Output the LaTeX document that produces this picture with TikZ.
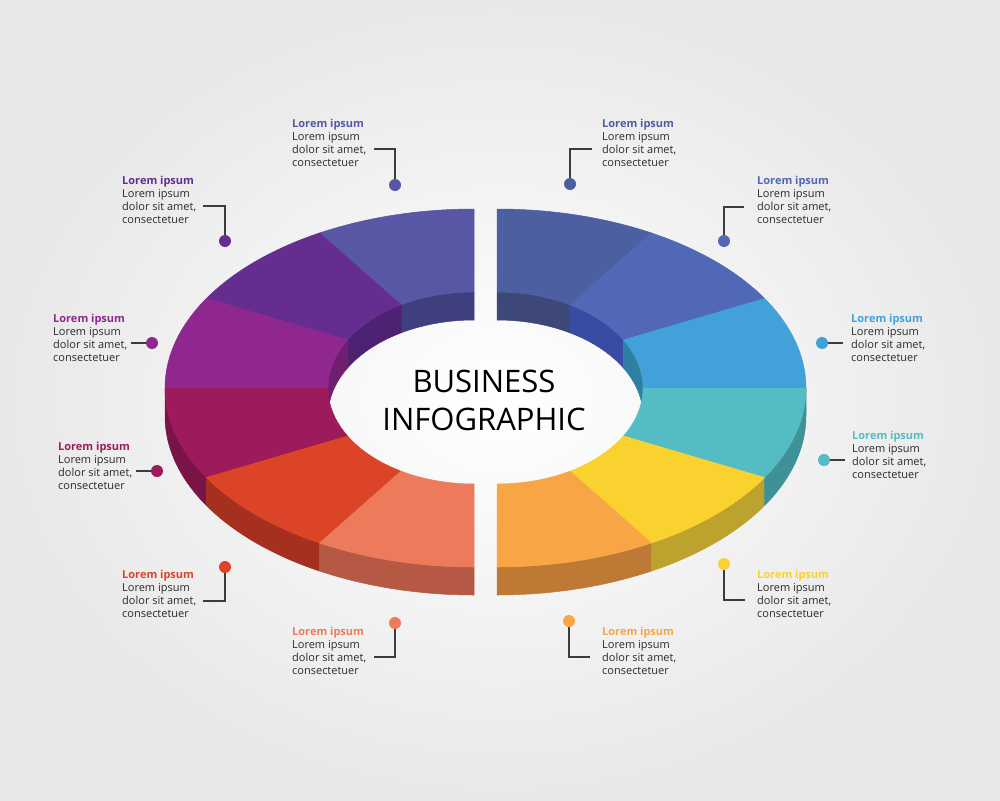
\documentclass[tikz,border=0pt]{standalone}
\usepackage{fontspec}
\setmainfont{Open Sans}
\usetikzlibrary{positioning}

% Top faces.
\definecolor{topA}{HTML}{5757A6}
\definecolor{topB}{HTML}{662D91}
\definecolor{topC}{HTML}{8F278F}
\definecolor{topD}{HTML}{9E1B5B}
\definecolor{topE}{HTML}{DC4427}
\definecolor{topF}{HTML}{ED7A5A}
\definecolor{topG}{HTML}{4B5FA1}
\definecolor{topH}{HTML}{5068B5}
\definecolor{topI}{HTML}{42A1D9}
\definecolor{topJ}{HTML}{53BDC3}
\definecolor{topK}{HTML}{FAD230}
\definecolor{topL}{HTML}{F8A546}
% Walls.
\definecolor{inA}{HTML}{3F3F7E}
\definecolor{inB}{HTML}{4E2272}
\definecolor{inC}{HTML}{6F1F6D}
\definecolor{inG}{HTML}{3D4879}
\definecolor{inH}{HTML}{3A4BA4}
\definecolor{inI}{HTML}{2F7EA4}
\definecolor{sdD}{HTML}{7A1446}
\definecolor{sdE}{HTML}{A6301F}
\definecolor{sdF}{HTML}{B55944}
\definecolor{sdJ}{HTML}{3E9297}
\definecolor{sdK}{HTML}{BDA22E}
\definecolor{sdL}{HTML}{BE7A35}
% Text and lines.
\definecolor{bodytxt}{HTML}{2B2B2B}
\definecolor{linegray}{HTML}{3C3C3C}

\begin{document}
\begin{tikzpicture}[x=1pt, y=1pt,
    seg/.style={fill=#1, draw=#1, line width=0.5pt, line join=round},
    dot/.style={circle,
        fill=#1, % Dot colour.
        inner sep=0pt,
        minimum size=12pt},
    lbl/.style={anchor=base west, % Base of the last line.
        inner sep=0pt,
        align=left,
        text=bodytxt,
        font=\fontsize{11}{13}\selectfont},
    conn/.style={draw=linegray, line width=1.6pt}]

        % Background.
        \shade[inner color=white, outer color=black!9] (0,-800) rectangle (1000,0);
        \useasboundingbox (0,-800) rectangle (1000,0);

        % Inner walls (back).
        \foreach \cx/\a/\b/\col in {474/90/120/inA, 474/120/150/inB, 474/150/180/inC,
                                    497/60/90/inG, 497/30/60/inH, 497/0/30/inI}
        \path[seg=\col] ({\cx+146*cos(\a)},{-388+96*sin(\a)})
            arc[start angle=\a, end angle=\b, x radius=146, y radius=96] -- ++(0,-28)
            arc[start angle=\b, end angle=\a, x radius=146, y radius=96] -- cycle;

        % Outer walls (front).
        \foreach \cx/\a/\b/\col in {474/180/210/sdD, 474/210/240/sdE, 474/240/270/sdF,
                                    497/-90/-60/sdL, 497/-60/-30/sdK, 497/-30/0/sdJ}
        \path[seg=\col] ({\cx+309*cos(\a)},{-388+179*sin(\a)})
            arc[start angle=\a, end angle=\b, x radius=309, y radius=179] -- ++(0,-28)
            arc[start angle=\b, end angle=\a, x radius=309, y radius=179] -- cycle;

        % Top faces.
        \foreach \cx/\a/\b/\col in {474/90/120/topA, 474/120/150/topB, 474/150/180/topC,
                                    474/180/210/topD, 474/210/240/topE, 474/240/270/topF,
                                    497/60/90/topG, 497/30/60/topH, 497/0/30/topI,
                                    497/-30/0/topJ, 497/-60/-30/topK, 497/-90/-60/topL}
        \path[seg=\col] ({\cx+309*cos(\a)},{-388+179*sin(\a)})
            arc[start angle=\a, end angle=\b, x radius=309, y radius=179]
            -- ({\cx+146*cos(\b)},{-388+96*sin(\b)})
            arc[start angle=\b, end angle=\a, x radius=146, y radius=96] -- cycle;

        % Title.
        \node[inner sep=0pt, align=center, font=\fontsize{31}{38}\selectfont] (title)
            at (484,-400) {BUSINESS\\INFOGRAPHIC};

        % Labels, dots and connectors.
        \foreach \n/\tx/\ty/\dx/\dy/\ex/\ey/\col in {
            la/292/166/395/185/374/149/topA, lb/122/223/225/241/203/206/topB,
            lc/53/361/152/343/131/343/topC, ld/58/489/157/471/136/471/topD,
            le/122/617/225/567/203/601/topE, lf/292/674/395/623/374/657/topF,
            ra/602/166/570/184/592/149/topG, rb/757/223/724/241/744/207/topH,
            rc/851/361/822/343/843/343/topI, rd/852/478/824/460/845/460/topJ,
            re/757/617/724/564/745/600/topK, rf/602/674/569/621/590/657/topL} {
        \node[lbl] (t\n) at (\tx,-\ty)
            {\textcolor{\col}{\textbf{Lorem ipsum}}\\Lorem ipsum\\dolor sit amet,\\consectetuer};
        \coordinate (p\n) at (\dx,-\dy);
        \coordinate (e\n) at (\ex,-\ey);
        \draw[conn] (p\n) |- (e\n);
        \node[dot=\col] (d\n) at (p\n) {};
        }
    \end{tikzpicture}
\end{document}
